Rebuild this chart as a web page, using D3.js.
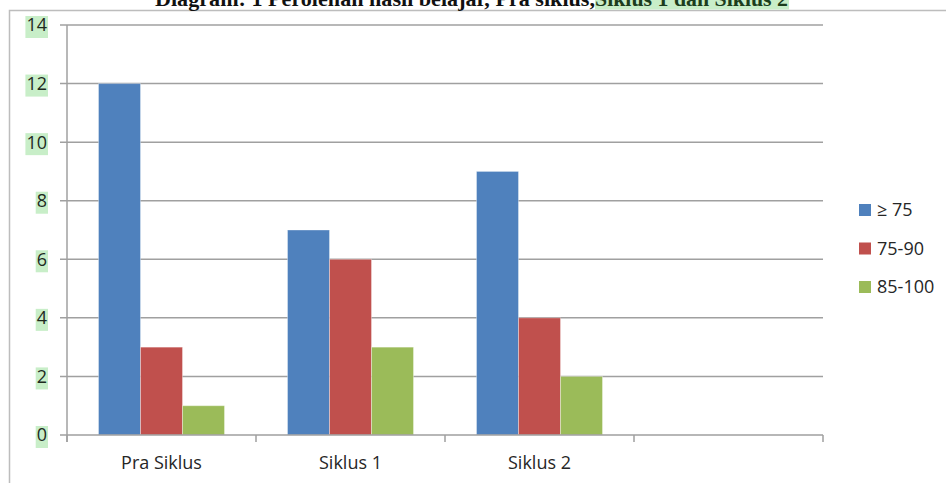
<!DOCTYPE html>
<html>
<head>
<meta charset="utf-8">
<script src="https://cdn.jsdelivr.net/npm/d3@7"></script>
<style>
  body { margin: 0; background: #fff; }
  svg { display: block; }
</style>
</head>
<body>
<div id="chart"></div>
<script>
const categories = ['Pra Siklus', 'Siklus 1', 'Siklus 2', ''];
const seriesNames = ['≥ 75', '75-90', '85-100'];
const seriesValues = [
  [12, 7, 9],   // ≥ 75
  [3, 6, 4],    // 75-90
  [1, 3, 2]     // 85-100
];
const seriesColors = ['#4f81bd', '#c0504d', '#9bbb59'];
const yTicks = [0, 2, 4, 6, 8, 10, 12, 14];
const titlePlain = 'Diagram: 1 Perolehan hasil belajar, Pra siklus, ';
const titleMarked = 'Siklus 1 dan Siklus 2';

const width = 946, height = 483;
const svg = d3.select('#chart').append('svg').attr('width', width).attr('height', height);

// outer frame (only top and left visible)
svg.append('path')
  .attr('d', 'M9.5,483 V10.5 H946')
  .attr('fill', 'none').attr('stroke', '#bdbdbd').attr('stroke-width', 1.5);

// title, cut at the top
const t1 = svg.append('text')
  .attr('x', 155).attr('y', 6)
  .style('font-family', '"Liberation Serif", serif').style('font-weight', 'bold')
  .style('font-size', '22px').attr('fill', '#111')
  .attr('textLength', 440).attr('lengthAdjust', 'spacingAndGlyphs')
  .text(titlePlain);
svg.append('rect').attr('x', 595).attr('y', 0).attr('width', 194).attr('height', 9.5).attr('fill', '#c8eec8');
svg.append('text')
  .attr('x', 595).attr('y', 6)
  .style('font-family', '"Liberation Serif", serif').style('font-weight', 'bold')
  .style('font-size', '22px').attr('fill', '#1c3d1c')
  .attr('textLength', 193).attr('lengthAdjust', 'spacingAndGlyphs')
  .text(titleMarked);

const x0 = d3.scaleBand().domain(categories).range([67, 823]);
const x1 = d3.scaleBand().domain(seriesNames).range([0, x0.bandwidth()]).paddingOuter(0.75);
const y = d3.scaleLinear().domain([0, 14]).range([435, 25]);

// gridlines with left tick stubs
svg.append('g').selectAll('line').data(yTicks.filter(d => d > 0)).join('line')
  .attr('x1', 60).attr('x2', 823)
  .attr('y1', d => y(d)).attr('y2', d => y(d))
  .attr('stroke', '#a0a0a0').attr('stroke-width', 1.5);

// y labels with green highlight
const yl = svg.append('g').style('font-family', '"Open Sans", sans-serif').style('font-size', '18px');
yTicks.forEach(v => {
  const g = yl.append('g');
  const txt = g.append('text')
    .attr('x', 47).attr('y', y(v)).attr('dy', '0.36em')
    .attr('text-anchor', 'end').attr('fill', '#1e2a1e').text(v);
  const b = txt.node().getBBox();
  g.insert('rect', 'text')
    .attr('x', b.x - 1).attr('y', y(v) - 9).attr('width', b.width + 2).attr('height', 22)
    .attr('fill', '#c8eec8');
});

// bars
const bars = svg.append('g');
seriesNames.forEach((s, si) => {
  bars.selectAll('.b' + si)
    .data(seriesValues[si].map((v, ci) => ({ cat: categories[ci], v })))
    .join('rect')
    .attr('class', 'b' + si)
    .attr('x', d => x0(d.cat) + x1(s))
    .attr('width', x1.bandwidth())
    .attr('y', d => y(d.v))
    .attr('height', d => y(0) - y(d.v))
    .attr('fill', seriesColors[si])
    .attr('stroke', 'rgba(255,255,255,0.35)').attr('stroke-width', 1);
});

// axes
const gx = svg.append('g').attr('transform', 'translate(0,435)')
  .call(d3.axisBottom(x0).tickSize(0).tickSizeOuter(0));
gx.select('.domain').remove();
gx.selectAll('text').attr('dy', null).attr('y', 34)
  .style('font-family', '"Open Sans", sans-serif').style('font-size', '18px').attr('fill', '#262626');
const bounds = categories.map(c => x0(c)).concat([823]);
svg.append('path')
  .attr('d', 'M60,435 H823' + bounds.map(b => ` M${b},435 V442`).join(''))
  .attr('fill', 'none').attr('stroke', '#a0a0a0').attr('stroke-width', 1.5);
svg.append('line').attr('x1', 67).attr('x2', 67).attr('y1', 25).attr('y2', 442)
  .attr('stroke', '#a0a0a0').attr('stroke-width', 1.5);

// legend
const lg = svg.append('g');
seriesNames.forEach((s, i) => {
  const cy = 210 + i * 38.5;
  lg.append('rect').attr('x', 859).attr('y', cy - 6).attr('width', 12).attr('height', 12).attr('fill', seriesColors[i]);
  lg.append('text').attr('x', 877).attr('y', cy).attr('dy', '0.36em')
    .style('font-family', '"Open Sans", sans-serif').style('font-size', '18px').attr('fill', '#262626')
    .text(s);
});
</script>
</body>
</html>
